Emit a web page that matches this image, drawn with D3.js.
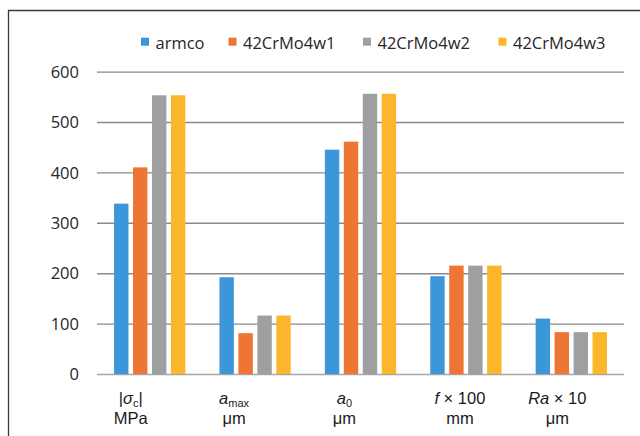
<!DOCTYPE html>
<html>
<head>
<meta charset="utf-8">
<script src="https://cdn.jsdelivr.net/npm/d3@7"></script>
<style>
  html, body { margin: 0; padding: 0; background: #fff; }
  svg { display: block; }
</style>
</head>
<body>
<svg id="chart" width="640" height="436"></svg>
<script>
// ---- data ----
const categories = ["sigma", "amax", "a0", "f100", "Ra10"];
const seriesNames = ["armco", "42CrMo4w1", "42CrMo4w2", "42CrMo4w3"];
const armco     = [338, 192, 445, 194, 110];
const crMo4w1   = [410, 81, 461, 215, 83];
const crMo4w2   = [553, 116, 556, 215, 83];
const crMo4w3   = [553, 116, 556, 215, 83];
const yTicks = [0, 100, 200, 300, 400, 500, 600];

// category labels: each line is a list of [text, style] pieces
const categoryLabels = [
  [[["|", ""], ["σ", "i"], ["c", "sub"], ["|", ""]], [["MPa", ""]]],
  [[["a", "i"], ["max", "sub"]], [["μm", ""]]],
  [[["a", "i"], ["0", "sub"]], [["μm", ""]]],
  [[["f", "i"], [" × 100", ""]], [["mm", ""]]],
  [[["Ra", "i"], [" × 10", ""]], [["μm", ""]]]
];

// ---- layout ----
const colors = ["#3b97d9", "#ee7534", "#9d9fa1", "#fbb62b"];
const labelShift = [-19, -21, -16, -6, -14];
const seriesValues = [armco, crMo4w1, crMo4w2, crMo4w3];

const svg = d3.select("#chart");
const tickFont = "'Open Sans', 'Liberation Sans', sans-serif";
const labelFont = "'Liberation Sans', Arial, sans-serif";

// outer frame
svg.append("path")
  .attr("d", "M8.5,436 V10.5 H640")
  .attr("fill", "none")
  .attr("stroke", "#3a3a3a")
  .attr("stroke-width", 1.3);

const x0 = d3.scaleBand().domain(categories).range([97, 624]).paddingInner(0).paddingOuter(0);
const x1 = d3.scaleBand().domain(seriesNames).range([0, x0.bandwidth()])
  .paddingInner(0.24).paddingOuter(0.9);
const y = d3.scaleLinear().domain([0, 600]).range([374, 71.6]);

// gridlines + y labels via axis
const yAxis = d3.axisLeft(y).tickValues(yTicks).tickSize(-(624 - 97)).tickPadding(0).tickFormat(d3.format("d"));
const gAxis = svg.append("g").attr("transform", "translate(624,0)").call(yAxis);
gAxis.select(".domain").remove();
gAxis.selectAll(".tick line")
  .attr("stroke", d => d === 0 ? "#a6a6a6" : "#8a8a8a")
  .attr("stroke-width", 1.4)
  .attr("transform", "translate(0,0)");
// move tick lines to span the plot; labels to the left
gAxis.selectAll(".tick line").attr("x1", 0).attr("x2", -(624 - 97));
gAxis.selectAll(".tick text")
  .attr("x", -(624 - 79))
  .attr("text-anchor", "end")
  .attr("dy", "0.35em")
  .style("font-family", tickFont)
  .style("font-size", "16.5px")
  .attr("fill", "#262626");

// bars
const groups = svg.append("g").selectAll("g")
  .data(categories)
  .join("g")
  .attr("transform", d => `translate(${x0(d)},0)`);

groups.selectAll("rect")
  .data((d, i) => seriesNames.map((s, j) => ({ s, j, v: seriesValues[j][i] })))
  .join("rect")
  .attr("x", d => x1(d.s))
  .attr("width", x1.bandwidth())
  .attr("y", d => y(d.v))
  .attr("height", d => y(0) - y(d.v))
  .attr("fill", d => colors[d.j]);

// category labels
const lineBaselines = [404, 424];
categories.forEach((c, i) => {
  const cx = x0(c) + x0.bandwidth() / 2 + labelShift[i];
  categoryLabels[i].forEach((pieces, li) => {
    const t = svg.append("text")
      .attr("x", cx)
      .attr("y", lineBaselines[li])
      .attr("text-anchor", "middle")
      .style("font-family", labelFont)
      .style("font-size", "16.5px")
      .attr("fill", "#1a1a1a");
    pieces.forEach(([txt, st]) => {
      const ts = t.append("tspan").text(txt);
      if (st === "i") ts.style("font-style", "italic");
      if (st === "sub") ts.style("font-size", "11px").attr("dy", 3);
    });
    // reset baseline after a subscript that is followed by more text
    t.selectAll("tspan").each(function(d, k, nodes) {
      if (k > 0 && pieces[k - 1][1] === "sub" && pieces[k][1] !== "sub") {
        d3.select(this).attr("dy", -3);
      }
    });
  });
});

// legend
const legendX = [141, 228.5, 363, 498.5];
const legend = svg.append("g");
seriesNames.forEach((s, j) => {
  legend.append("rect")
    .attr("x", legendX[j]).attr("y", 37.7)
    .attr("width", 8).attr("height", 8)
    .attr("fill", colors[j]);
  legend.append("text")
    .attr("x", legendX[j] + 14.5).attr("y", 48.5)
    .style("font-family", tickFont)
    .style("font-size", "16.5px")
    .attr("fill", "#262626")
    .text(s);
});
</script>
</body>
</html>
